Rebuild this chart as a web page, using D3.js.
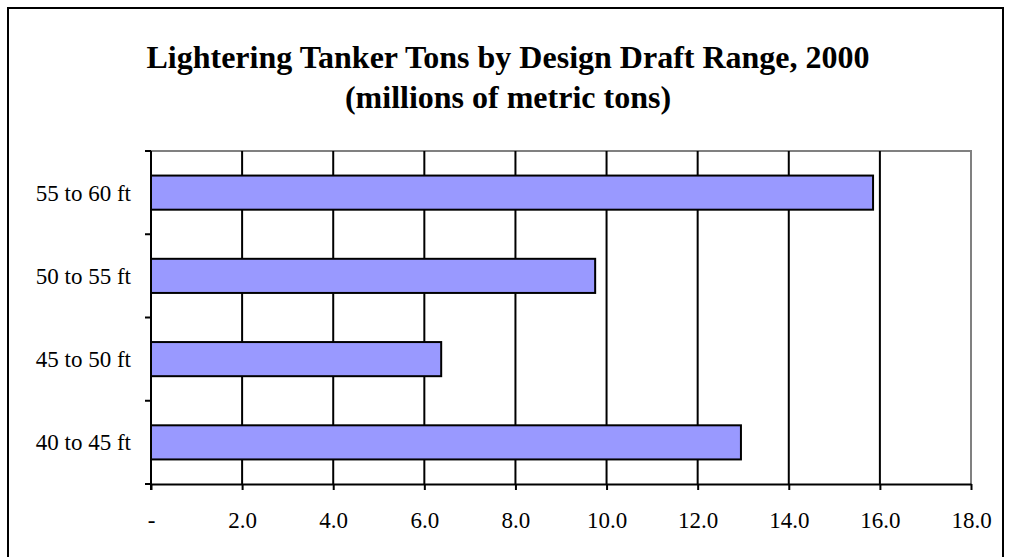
<!DOCTYPE html>
<html>
<head>
<meta charset="utf-8">
<script src="https://cdn.jsdelivr.net/npm/d3@7"></script>
<style>
  html, body { margin: 0; padding: 0; background: #fff; }
  svg { display: block; }
</style>
</head>
<body>
<svg id="chart" width="1010" height="557"></svg>
<script>
// Draft ranges, bottom to top as drawn
const categories = ["40 to 45 ft", "45 to 50 ft", "50 to 55 ft", "55 to 60 ft"];
const tons = [12.95, 6.37, 9.75, 15.85];
const xTicks = [0, 2, 4, 6, 8, 10, 12, 14, 16, 18];
const titleLines = ["Lightering Tanker Tons by Design Draft Range, 2000", "(millions of metric tons)"];

const svg = d3.select("#chart");
const W = 1010, H = 557;
const plot = { left: 151, right: 971, top: 151, bottom: 484 };
const font = "'Liberation Serif', 'Times New Roman', serif";

// outer chart frame
svg.append("path")
  .attr("d", `M8,${H + 10}V8H1003V${H + 10}`)
  .attr("fill", "none").attr("stroke", "#000").attr("stroke-width", 2);

// title
svg.append("g").selectAll("text").data(titleLines).join("text")
  .attr("x", 508).attr("y", (d, i) => 68 + i * 40)
  .attr("text-anchor", "middle")
  .attr("font-family", font).attr("font-weight", "bold").attr("font-size", 32)
  .text(d => d);

const x = d3.scaleLinear().domain([0, 18]).range([plot.left, plot.right]);
const y = d3.scaleBand().domain(categories.slice().reverse())
  .range([plot.top, plot.bottom]).paddingInner(0.59).paddingOuter(0.295);
const yStep = d3.scaleBand().domain(categories.slice().reverse())
  .range([plot.top, plot.bottom]);

// plot frame (top and right in gray)
svg.append("path")
  .attr("d", `M${plot.left},${plot.top}H${plot.right}V${plot.bottom}`)
  .attr("fill", "none").attr("stroke", "#808080").attr("stroke-width", 2);

// vertical gridlines
svg.append("g").selectAll("line").data(xTicks.filter(t => t > 0 && t < 18)).join("line")
  .attr("x1", d => x(d)).attr("x2", d => x(d))
  .attr("y1", plot.top).attr("y2", plot.bottom)
  .attr("stroke", "#000").attr("stroke-width", 2);

// bars
svg.append("g").selectAll("rect").data(categories).join("rect")
  .attr("x", x(0))
  .attr("y", d => y(d))
  .attr("width", (d, i) => x(tons[i]) - x(0))
  .attr("height", y.bandwidth())
  .attr("fill", "#9999FF")
  .attr("stroke", "#000").attr("stroke-width", 2);

// x axis
const xAxis = d3.axisBottom(x).tickValues(xTicks).tickSize(6).tickSizeOuter(0)
  .tickFormat(d => d === 0 ? "-" : d3.format(".1f")(d));
const gx = svg.append("g").attr("transform", `translate(0,${plot.bottom})`).call(xAxis);
gx.select(".domain").attr("stroke", "#000").attr("stroke-width", 2);
gx.selectAll(".tick line").attr("stroke", "#000").attr("stroke-width", 2);
gx.selectAll(".tick text").attr("font-family", font).attr("font-size", 23)
  .attr("fill", "#000").attr("dy", 0).attr("y", 44);

// y axis: ticks at category boundaries, labels centered in each band
const boundaries = categories.map(c => yStep(c)).concat([plot.bottom]);
const gy = svg.append("g");
gy.append("line")
  .attr("x1", plot.left).attr("x2", plot.left)
  .attr("y1", plot.top).attr("y2", plot.bottom + 6)
  .attr("stroke", "#000").attr("stroke-width", 2);
gy.selectAll("line.tk").data(boundaries).join("line").attr("class", "tk")
  .attr("x1", plot.left - 6).attr("x2", plot.left)
  .attr("y1", d => d).attr("y2", d => d)
  .attr("stroke", "#000").attr("stroke-width", 2);
gy.selectAll("text").data(categories).join("text")
  .attr("x", 131)
  .attr("y", d => yStep(d) + yStep.bandwidth() / 2)
  .attr("dy", "0.35em")
  .attr("text-anchor", "end")
  .attr("font-family", font).attr("font-size", 23).attr("fill", "#000")
  .text(d => d);
</script>
</body>
</html>
